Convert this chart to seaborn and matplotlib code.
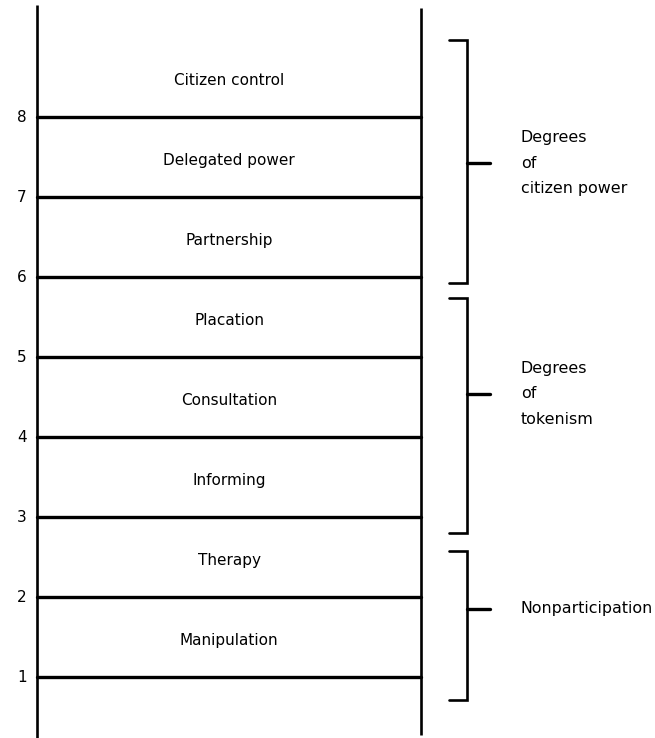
import matplotlib
matplotlib.use("Agg")
import matplotlib.pyplot as plt
import seaborn as sns
import pandas as pd

# ---- data ----
rungs = [1, 2, 3, 4, 5, 6, 7, 8]
rung_labels = ["Manipulation", "Therapy", "Informing", "Consultation",
               "Placation", "Partnership", "Delegated power", "Citizen control"]
group_names = ["Degrees\nof\ncitizen power", "Degrees\nof\ntokenism", "Nonparticipation"]
group_low = [5.925, 2.80, 0.71]
group_high = [8.96, 5.74, 2.575]
group_mid = [7.425, 4.54, 1.85]

# ---- layout ----
X_LEFT, X_RIGHT = 37, 421
X_NUM = 22
X_BR_TICK0, X_BR, X_BR_MID = 449, 467, 490
X_GROUP_TEXT = 521
YMIN, YMAX = 0.2375, 9.4625

sns.set_theme(style="white")
plt.rcParams['font.family'] = ['DejaVu Sans']

fig = plt.figure(figsize=(6.55, 7.38), dpi=100)
ax = fig.add_axes([0, 0, 1, 1])

# rails
ax.plot([X_LEFT, X_LEFT], [YMIN, YMAX - 0.06], color="black", lw=1.9, solid_capstyle="butt")
ax.plot([X_RIGHT, X_RIGHT], [YMIN + 0.04, YMAX - 0.1], color="black", lw=1.9, solid_capstyle="butt")

# rungs via seaborn
df = pd.DataFrame({
    "x": [X_LEFT, X_RIGHT] * len(rungs),
    "y": [r for r in rungs for _ in range(2)],
    "rung": [r for r in rungs for _ in range(2)],
})
sns.lineplot(data=df, x="x", y="y", units="rung", estimator=None,
             color="black", lw=2.4, ax=ax, legend=False, sort=False)
ax.set_xlim(0, 655)
ax.set_ylim(YMIN, YMAX)
ax.axis("off")

for r, lab in zip(rungs, rung_labels):
    ax.text(X_NUM, r, str(r), ha="center", va="center", fontsize=11, color="black")
    ax.text((X_LEFT + X_RIGHT) / 2, r + 0.46, lab, ha="center", va="center",
            fontsize=11, color="black")

# brackets
for name, lo, hi, mid in zip(group_names, group_low, group_high, group_mid):
    ax.plot([X_BR_TICK0, X_BR, X_BR, X_BR_TICK0], [hi, hi, lo, lo],
            color="black", lw=1.9, solid_joinstyle="miter")
    ax.plot([X_BR, X_BR_MID], [mid, mid], color="black", lw=2.4)
    ax.text(X_GROUP_TEXT, mid, name, ha="left", va="center", fontsize=11.4,
            linespacing=1.9, color="black")

fig.savefig("out.png", dpi=100)
